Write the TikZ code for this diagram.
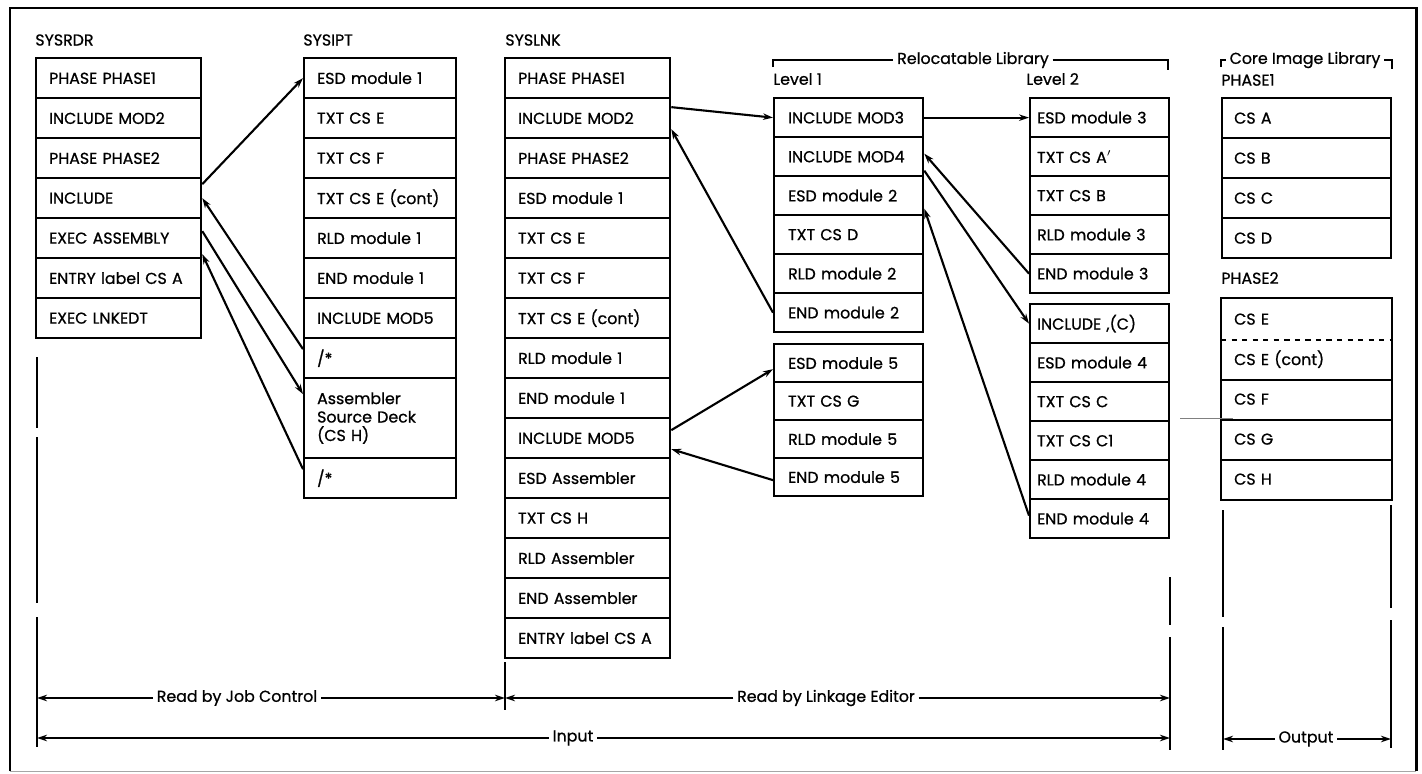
\documentclass[tikz,border=0pt]{standalone}
\usepackage{fontspec}
\setmainfont{Poppins}[UprightFeatures={FakeBold=0.8}]
\usetikzlibrary{arrows.meta,calc}

\newcommand\cellfont{\fontsize{9}{10.5}\selectfont}

% stack of cells: [options]{name}{x}{y}{width}{row height}{indent}{items}
\newcommand\cellstack[8][]{%
  \pgfmathsetmacro\cw{(#5-2*#7)*0.2}%
  \pgfmathsetmacro\ci{#7*0.2}%
  \foreach \t [count=\i] in {#8}
    \node[cell, text width=\cw mm, inner xsep=\ci mm, minimum height=#6*0.2mm, #1]
      (#2\i) at (#3,{#4+(\i-1)*#6}) {\t};%
}

\tikzset{
  cell/.style={draw, line width=1.3pt, anchor=north west, align=left, inner ysep=0pt, font=\cellfont},
  lbl/.style={anchor=west, inner sep=0pt, font=\cellfont},
  link/.style={->, line width=1.2pt},
  dim/.style={line width=0.9pt},
  dimtext/.style={inner sep=2pt, font=\cellfont}
}

\begin{document}
\begin{tikzpicture}[x=0.2mm, y=-0.2mm, >={Stealth[length=2mm,width=1.3mm]}]
  \useasboundingbox (0,0) rectangle (1422,773);

  % frame
  \draw[line width=1.7pt] (10,771) -- (10,8) -- (1416,8) -- (1416,771);
  \draw[line width=0.5pt, black!35] (10,771) -- (1416,771);

  % headings
  \node[lbl] (hrdr) at (35,40) {SYSRDR};
  \node[lbl] (hipt) at (303,40) {SYSIPT};
  \node[lbl] (hlnk) at (505,40) {SYSLNK};
  \node[lbl] (hlv1) at (773,79) {Level 1};
  \node[lbl] (hlv2) at (1026,79) {Level 2};
  \node[lbl] (hph1) at (1221,80) {PHASE1};
  \node[lbl] (hph2) at (1221,278) {PHASE2};

  % library brackets
  \node[dimtext] (rlib) at (973,60) {Relocatable Library};
  \draw[dim] (773,67) -- (773,60) -- (rlib.west);
  \draw[dim] (rlib.east) -- (1168,60) -- (1168,70);
  \node[dimtext] (clib) at (1305,60) {Core Image Library};
  \draw[dim] (1221,67) -- (1221,60) -- (clib.west);
  \draw[dim] (clib.east) -- (1392,60) -- (1392,69);

  % SYSRDR
  \cellstack{rdr}{35}{57}{165}{40}{13}{PHASE PHASE1, INCLUDE MOD2, PHASE PHASE2, INCLUDE,
    EXEC ASSEMBLY, ENTRY label CS A, EXEC LNKEDT}

  % SYSIPT
  \cellstack{ipt}{303}{57}{152}{40}{13}{ESD module 1, TXT CS E, TXT CS F, TXT CS E (cont),
    RLD module 1, END module 1, INCLUDE MOD5, /*}
  \node[cell, text width=25.2mm, inner xsep=2.6mm, minimum height=16mm] (ipt9) at (303,377)
    {Assembler\\Source Deck\\(CS H)};
  \node[cell, text width=25.2mm, inner xsep=2.6mm, minimum height=8mm] (ipt10) at (303,457) {/*};

  % SYSLNK
  \cellstack{lnk}{504}{57}{165}{40}{13}{PHASE PHASE1, INCLUDE MOD2, PHASE PHASE2, ESD module 1,
    TXT CS E, TXT CS F, TXT CS E (cont), RLD module 1, END module 1, INCLUDE MOD5,
    ESD Assembler, TXT CS H, RLD Assembler, END Assembler, ENTRY label CS A}

  % relocatable library, level 1
  \cellstack{la}{773}{97}{149}{39}{14}{INCLUDE MOD3, INCLUDE MOD4, ESD module 2, TXT CS D,
    RLD module 2, END module 2}
  \cellstack{lb}{773}{343}{149}{38}{14}{ESD module 5, TXT CS G, RLD module 5, END module 5}

  % relocatable library, level 2
  \cellstack{lc}{1029}{97}{139}{39}{7}{ESD module 3, TXT CS A$'$, TXT CS B, RLD module 3, END module 3}
  \cellstack{ld}{1029}{303}{139}{39}{7}{{INCLUDE ,(C)}, ESD module 4, TXT CS C, TXT CS C1,
    RLD module 4, END module 4}

  % core image library
  \cellstack{pa}{1221}{97}{169}{40}{12}{CS A, CS B, CS C, CS D}
  \cellstack[draw=none]{pb}{1221}{298}{169}{40}{12}{CS E, CS E (cont), CS F, CS G, CS H}
  \draw[line width=1.3pt] (pb1.north west) rectangle (pb5.south east);
  \draw[line width=1.3pt, dashed] (pb1.south west) -- (pb1.south east);
  \foreach \i in {2,3,4}
    \draw[line width=1.3pt] (pb\i.south west) -- (pb\i.south east);
  \draw[line width=0.3pt, black!50] (1180,418) -- (1233,418);

  % job control reads
  \draw[link] ($(rdr4.east)+(0,-14)$) -- (ipt1.west);
  \draw[link] ($(ipt8.west)+(0,-9)$) -- (rdr4.east);
  \draw[link] ($(rdr5.east)+(0,-7)$) -- ($(ipt9.west)+(0,-24)$);
  \draw[link] ($(ipt10.west)+(0,-9)$) -- ($(rdr6.east)+(0,-24)$);

  % linkage editor reads
  \draw[link] ($(lnk2.east)+(0,-11)$) -- (la1.west);
  \draw[link] (la6.west) -- ($(lnk2.east)+(0,11)$);
  \draw[link] (la1.east) -- (lc1.west);
  \draw[link] (lc5.west) -- ($(la2.east)+(0,-3)$);
  \draw[link] ($(la2.east)+(0,14)$) -- (ld1.west);
  \draw[link] ($(ld6.west)+(0,-3)$) -- ($(la3.east)+(0,13)$);
  \draw[link] ($(lnk10.east)+(0,-8)$) -- ($(lb1.west)+(0,6)$);
  \draw[link] ($(lb4.west)+(0,3)$) -- ($(lnk10.east)+(0,11)$);

  % extent lines
  \draw[dim] (37,357) -- (37,428) (37,437) -- (37,603) (37,617) -- (37,747);
  \draw[dim] (505,662) -- (505,710);
  \draw[dim] (1170,577) -- (1170,625) (1170,637) -- (1170,750);
  \draw[dim] (1223,510) -- (1223,617) (1223,627) -- (1223,750);
  \draw[dim] (1391,505) -- (1391,608) (1391,620) -- (1391,748);

  \coordinate (jcL) at (37,698);
  \coordinate (jcR) at (505,698);
  \coordinate (leR) at (1170,698);
  \coordinate (inL) at (37,738);
  \coordinate (inR) at (1170,738);
  \coordinate (otL) at (1223,739);
  \coordinate (otR) at (1391,739);

  \node[dimtext] (jc) at (237,698) {Read by Job Control};
  \node[dimtext] (le) at (826,698) {Read by Linkage Editor};
  \node[dimtext] (inp) at (573,738) {Input};
  \node[dimtext] (otp) at (1306,739) {Output};

  \draw[dim, ->] (jc.west) -- (jcL);
  \draw[dim, ->] (jc.east) -- (jcR);
  \draw[dim, ->] (le.west) -- (jcR);
  \draw[dim, ->] (le.east) -- (leR);
  \draw[dim, ->] (inp.west) -- (inL);
  \draw[dim, ->] (inp.east) -- (inR);
  \draw[dim, ->] (otp.west) -- (otL);
  \draw[dim, ->] (otp.east) -- (otR);
\end{tikzpicture}
\end{document}
